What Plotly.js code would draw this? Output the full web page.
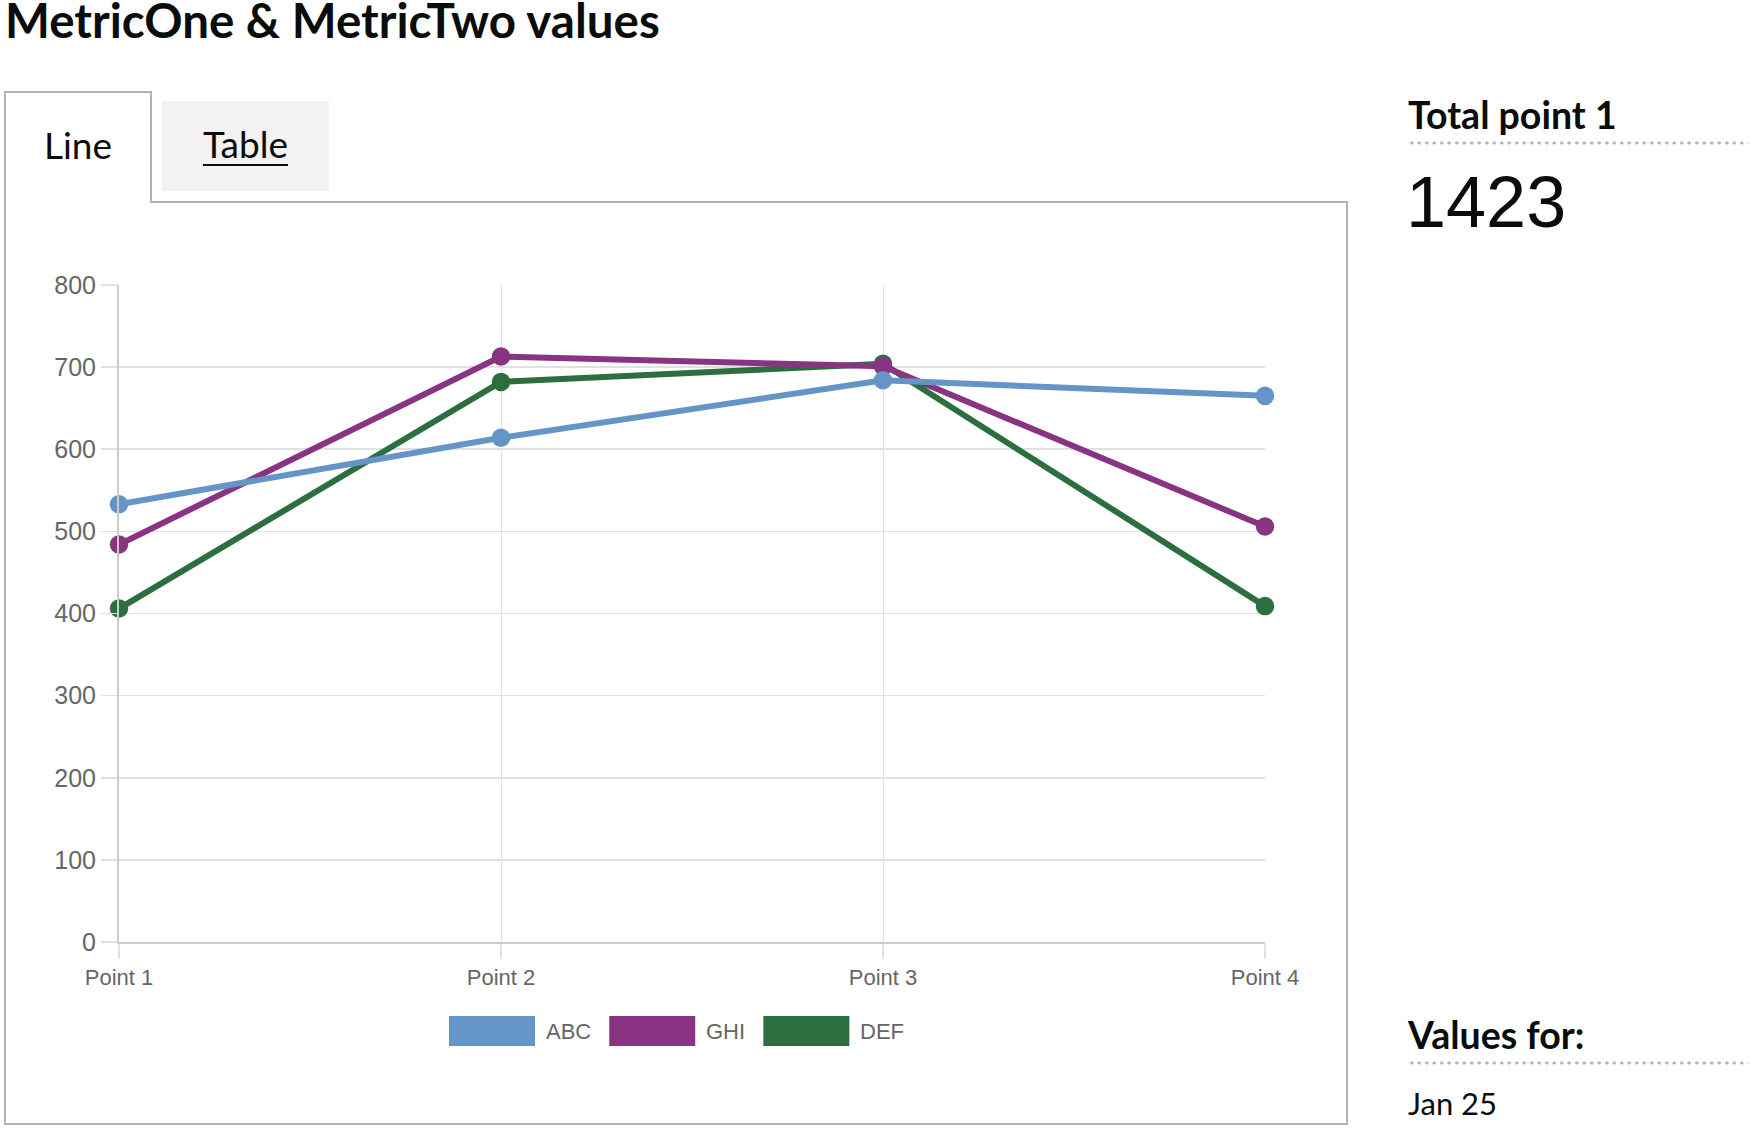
<!DOCTYPE html>
<html>
<head>
<meta charset="utf-8">
<script src="https://cdn.plot.ly/plotly-3.0.1.min.js"></script>
<style>
  html, body { margin: 0; padding: 0; }
  body { width: 1752px; height: 1132px; position: relative; background: #fff; overflow: hidden;
         font-family: Lato, "Noto Sans", sans-serif; color: #0b0c0c; }
  .abs { position: absolute; white-space: nowrap; }
  #title { left: 5px; top: 1px; font-size: 47.5px; font-weight: 700; line-height: 38px; height: 44px; }
  #panel { left: 4px; top: 201px; width: 1344px; height: 924px; box-sizing: border-box;
           border: 2px solid #b1b4b6; background: #fff; z-index: 1; }
  #tabLine { left: 4px; top: 91px; width: 148px; height: 112px; box-sizing: border-box;
             border: 2px solid #b1b4b6; border-bottom: none; background: #fff; z-index: 3;
             font-size: 37px; line-height: 1.2; text-align: center; padding-top: 30px; }
  #tabTable { left: 162px; top: 101px; width: 167px; height: 90px; background: #f3f2f1; z-index: 3;
              font-size: 37px; line-height: 1.2; text-align: center; padding-top: 21px; box-sizing: border-box; }
  #tabTable span { text-decoration: underline; text-decoration-thickness: 2px; text-underline-offset: 6px; }
  #chart { left: 0; top: 0; width: 1352px; height: 1132px; z-index: 2; }
  .side { left: 1408px; }
  .kpiHead { font-size: 37.5px; font-weight: 700; line-height: 1.2; }
  .dots { left: 1408px; width: 340px; height: 4px;
          background-image: radial-gradient(circle, #b1b4b6 1.4px, transparent 1.8px);
          background-size: 7.5px 4px; background-repeat: repeat-x; }
  #kpiValue { left: 1406px; top: 161px; font-family: "Liberation Sans", Arial, sans-serif; font-size: 72px; line-height: normal; }
  #period { top: 1085px; font-size: 31px; line-height: 1.2; }
</style>
</head>
<body>
<div id="title" class="abs">MetricOne &amp; MetricTwo values</div>
<div id="panel" class="abs"></div>
<div id="tabLine" class="abs">Line</div>
<div id="tabTable" class="abs"><span>Table</span></div>
<div id="chart" class="abs"></div>

<div id="kpiHead" class="abs side kpiHead" style="top:92px;">Total point 1</div>
<div class="abs dots" style="top:141px;"></div>
<div id="kpiValue" class="abs"></div>
<div id="periodHead" class="abs side kpiHead" style="top:1012px;">Values for:</div>
<div class="abs dots" style="top:1061px;"></div>
<div id="period" class="abs side"></div>

<script>
// ---- data ----
const categories = ['Point 1', 'Point 2', 'Point 3', 'Point 4'];
const seriesNames = ['ABC', 'GHI', 'DEF'];
const abcValues = [533, 614, 684, 665];
const ghiValues = [484, 713, 701, 506];
const defValues = [406, 682, 704, 409];
const yTickValues = [0, 100, 200, 300, 400, 500, 600, 700, 800];
const periodLabel = 'Jan 25';

// ---- styles ----
const seriesColors = ['#6594c7', '#883482', '#2d6e40'];
const seriesValues = [abcValues, ghiValues, defValues];

document.getElementById('kpiValue').textContent =
  String(abcValues[0] + ghiValues[0] + defValues[0]);
document.getElementById('period').textContent = periodLabel;

// plot geometry (pixels inside the chart div)
const W = 1352, H = 1132;
const M = { l: 119, r: W - 1265, t: 285, b: H - 942 };
const plotW = W - M.l - M.r, plotH = H - M.t - M.b;
const px2x = px => (px - M.l) / plotW;
const py2y = py => (H - M.b - py) / plotH;

const chartFont = '"Liberation Sans", Arial, sans-serif';

// traces: draw first series on top (added last)
const traces = [];
for (let i = seriesNames.length - 1; i >= 0; i--) {
  traces.push({
    type: 'scatter', mode: 'lines+markers', name: seriesNames[i],
    x: categories, y: seriesValues[i],
    line: { color: seriesColors[i], width: 6 },
    marker: { color: seriesColors[i], size: 18.5 },
    cliponaxis: false, showlegend: false, hoverinfo: 'skip'
  });
}

// custom legend (large swatches)
const shapes = [], annotations = [];
const ctx = document.createElement('canvas').getContext('2d');
ctx.font = '22px "Liberation Sans"';
let cx = 449;
const swW = 86, swTop = 1016, swBot = 1046;
seriesNames.forEach((name, i) => {
  shapes.push({ type: 'rect', xref: 'paper', yref: 'paper',
    x0: px2x(cx), x1: px2x(cx + swW), y0: py2y(swBot), y1: py2y(swTop),
    fillcolor: seriesColors[i], line: { width: 0 } });
  const tx = cx + swW + 10;
  annotations.push({ xref: 'paper', yref: 'paper', x: px2x(tx), y: py2y((swTop + swBot) / 2),
    xanchor: 'left', yanchor: 'middle', showarrow: false, text: name,
    font: { family: chartFont, size: 22, color: '#666' }, borderpad: 0 });
  cx = tx + ctx.measureText(name).width + 19;
});

const layout = {
  width: W, height: H,
  margin: M,
  paper_bgcolor: 'rgba(0,0,0,0)', plot_bgcolor: 'rgba(0,0,0,0)',
  showlegend: false,
  font: { family: chartFont, size: 22, color: '#666' },
  xaxis: {
    type: 'category', range: [0, categories.length - 1], fixedrange: true,
    showgrid: true, gridcolor: '#e1e1e1', gridwidth: 1,
    showline: true, linecolor: '#cccccc', linewidth: 2,
    ticks: 'outside', ticklen: 15, tickcolor: '#e1e1e1', tickwidth: 1.5,
    tickfont: { family: chartFont, size: 22, color: '#666' },
    zeroline: false
  },
  yaxis: {
    range: [0, 800], fixedrange: true,
    tickmode: 'array', tickvals: yTickValues, ticktext: yTickValues.map(String),
    showgrid: true, gridcolor: '#e1e1e1', gridwidth: 1.6,
    showline: true, linecolor: '#cccccc', linewidth: 2,
    ticks: 'outside', ticklen: 16, tickcolor: '#e1e1e1', tickwidth: 1.6,
    ticklabelstandoff: 0,
    tickfont: { family: chartFont, size: 25, color: '#666' },
    zeroline: false
  },
  shapes: shapes,
  annotations: annotations
};

Plotly.newPlot('chart', traces, layout, { displayModeBar: false, staticPlot: true });
</script>
</body>
</html>
